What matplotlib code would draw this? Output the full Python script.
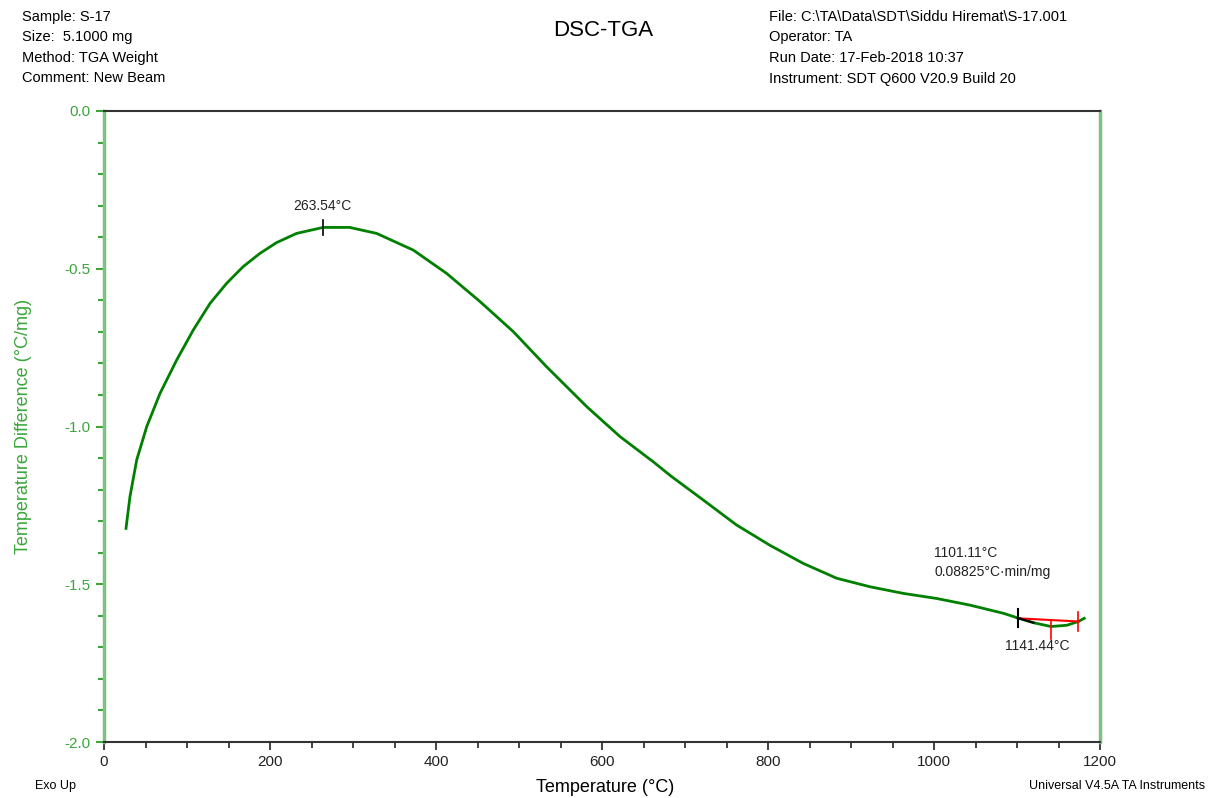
import numpy as np
import matplotlib
matplotlib.use('Agg')
import matplotlib.pyplot as plt
from matplotlib.ticker import MultipleLocator, FormatStrFormatter

plt.rcParams['font.family'] = ['Liberation Sans', 'DejaVu Sans']
plt.rcParams['axes.unicode_minus'] = False

# DSC curve
temp = [26.5, 31.3, 39.4, 51.4, 67.5, 87.6, 107.6, 127.7, 147.8, 167.8, 188, 208,
        232, 264, 296, 328.5, 372.7, 412.9, 453, 493, 533, 581.6, 621.7, 661.8,
        684, 722, 762, 802, 842.5, 882.8, 923, 963, 1003, 1043, 1083.5,
        1101, 1120, 1141, 1160, 1174, 1181]
dT = [-1.323, -1.222, -1.106, -1.001, -0.895, -0.789, -0.694, -0.610, -0.546, -0.493, -0.451, -0.417,
      -0.388, -0.369, -0.369, -0.388, -0.441, -0.515, -0.604, -0.699, -0.810, -0.937, -1.032, -1.112,
      -1.159, -1.233, -1.312, -1.376, -1.434, -1.481, -1.508, -1.529, -1.545, -1.566, -1.592,
      -1.607, -1.622, -1.634, -1.630, -1.618, -1.608]

peak_T = 263.54
peak_v = -0.369
onset_T = 1101.11
onset_v = -1.607
min_T = 1141.44
end_T = 1174
base_v = [-1.608, -1.618]

header_left = ['Sample: S-17', 'Size:  5.1000 mg', 'Method: TGA Weight', 'Comment: New Beam']
header_right = ['File: C:\\TA\\Data\\SDT\\Siddu Hiremat\\S-17.001', 'Operator: TA',
                'Run Date: 17-Feb-2018 10:37', 'Instrument: SDT Q600 V20.9 Build 20']

green = '#008000'
lgreen = '#80c080'
tgreen = '#3aa63a'

fig = plt.figure(figsize=(12.08, 7.98), dpi=100)
ax = fig.add_axes([104/1208, 1-742/798, 996/1208, 631/798])

ax.plot(temp, dT, color=green, lw=2)

# onset/peak markers
ax.plot([onset_T, end_T], base_v, color='red', lw=1.5)
ax.plot([t for t in temp if onset_T - 1 <= t <= 1121], [v for t, v in zip(temp, dT) if onset_T - 1 <= t <= 1121],
        color='black', lw=1.5)
ax.plot([peak_T, peak_T], [peak_v - 0.025, peak_v + 0.025], color='black', lw=1.2)
ax.plot([onset_T, onset_T], [onset_v - 0.028, onset_v + 0.028], color='black', lw=1.5)
ax.plot([min_T, min_T], [base_v[0] - 0.008, base_v[0] - 0.065], color='red', lw=1.2)
ax.plot([end_T, end_T], [base_v[1] - 0.03, base_v[1] + 0.03], color='red', lw=1.2)

ax.text(peak_T, peak_v + 0.045, '263.54°C', ha='center', va='bottom', fontsize=10, color='#222222')
ax.text(1000, -1.400, '1101.11°C', ha='left', va='center', fontsize=10, color='#222222')
ax.text(1000, -1.462, '0.08825°C·min/mg', ha='left', va='center', fontsize=10, color='#222222')
ax.text(1124, -1.697, '1141.44°C', ha='center', va='center', fontsize=10, color='#222222')

ax.set_xlim(0, 1200)
ax.set_ylim(-2.0, 0.0)
ax.xaxis.set_major_locator(MultipleLocator(200))
ax.xaxis.set_minor_locator(MultipleLocator(50))
ax.yaxis.set_major_locator(MultipleLocator(0.5))
ax.yaxis.set_minor_locator(MultipleLocator(0.1))
ax.yaxis.set_major_formatter(FormatStrFormatter('%.1f'))

ax.tick_params(axis='x', which='major', direction='out', length=6, width=1.2, labelsize=11, colors='#222222')
ax.tick_params(axis='x', which='minor', direction='out', length=4, width=1.2, colors='#222222')
ax.tick_params(axis='y', which='major', direction='out', length=6, width=1.5, labelsize=11, colors=tgreen)
ax.tick_params(axis='y', which='minor', direction='out', length=4, width=1.5, colors=tgreen)

ax.spines['left'].set_color(lgreen)
ax.spines['right'].set_color(lgreen)
ax.spines['left'].set_linewidth(2.5)
ax.spines['right'].set_linewidth(2.5)
ax.spines['top'].set_color('#333333')
ax.spines['bottom'].set_color('#333333')
ax.spines['top'].set_linewidth(1.5)
ax.spines['bottom'].set_linewidth(1.5)

ax.set_ylabel('Temperature Difference (°C/mg)', color=tgreen, fontsize=13)
ax.yaxis.set_label_coords(-0.072, 0.5)

for i, s in enumerate(header_left):
    fig.text(22/1208, 1-(17+20.5*i)/798, s, ha='left', va='center', fontsize=10.5)
for i, s in enumerate(header_right):
    fig.text(769/1208, 1-(17+20.5*i)/798, s, ha='left', va='center', fontsize=10.5)
fig.text(603/1208, 1-30/798, 'DSC-TGA', ha='center', va='center', fontsize=16)

fig.text(605/1208, 1-788/798, 'Temperature (°C)', ha='center', va='center', fontsize=13)
fig.text(35/1208, 1-786/798, 'Exo Up', ha='left', va='center', fontsize=9)
fig.text(1205/1208, 1-786/798, 'Universal V4.5A TA Instruments', ha='right', va='center', fontsize=9)

plt.savefig('out.png', dpi=100)
